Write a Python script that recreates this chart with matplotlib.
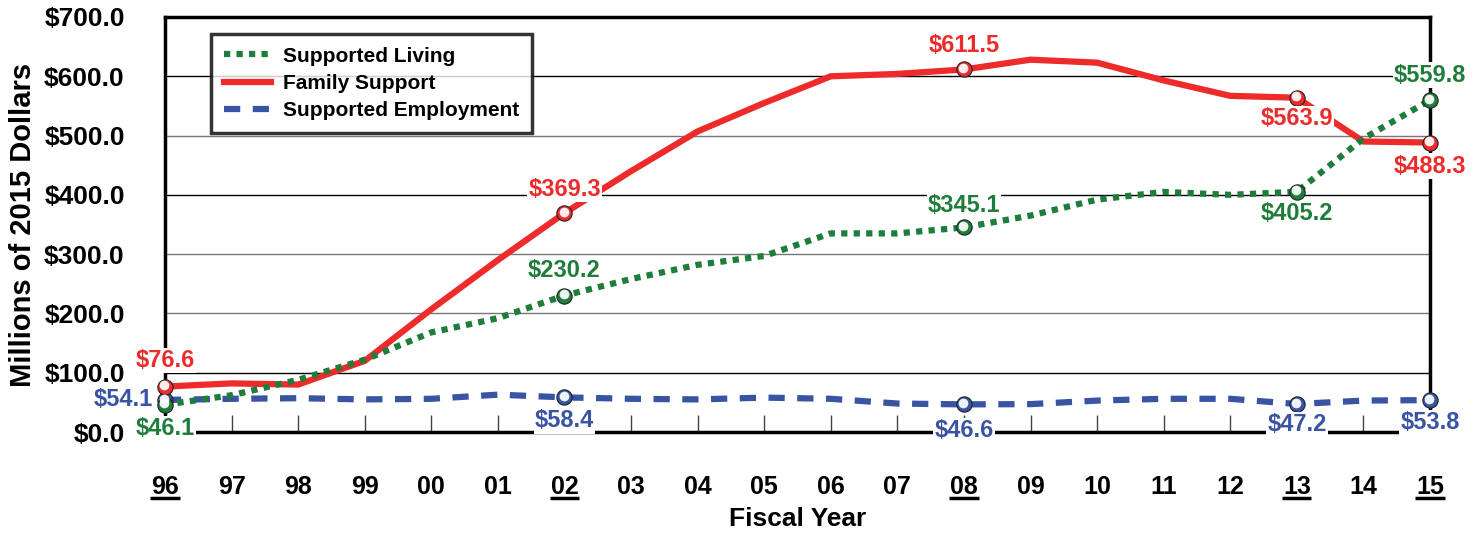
import numpy as np
import matplotlib.pyplot as plt
import matplotlib.transforms as mtransforms

plt.rcParams['font.family'] = ['Liberation Sans', 'DejaVu Sans']
plt.rcParams['font.weight'] = 'bold'

years = ['96', '97', '98', '99', '00', '01', '02', '03', '04', '05',
         '06', '07', '08', '09', '10', '11', '12', '13', '14', '15']
living = [46.1, 62, 88, 122, 168, 192, 230.2, 258, 282, 297,
          335, 335, 345.1, 365, 392, 405, 400, 405.2, 495, 559.8]
family = [76.6, 82, 80, 120, 207, 290, 369.3, 440, 507, 555,
          600, 604, 611.5, 628, 623, 593, 567, 563.9, 490, 488.3]
employment = [54.1, 56, 57, 55, 56, 63, 58.4, 56, 55, 58,
              56, 48, 46.6, 47, 53, 56, 56, 47.2, 53, 53.8]
marked = [0, 6, 12, 17, 19]
yticks = [0, 100, 200, 300, 400, 500, 600, 700]

RED = '#ee2b2b'
GREEN = '#1f7d3b'
BLUE = '#3a54a4'

# label offsets (points) for the marked years: (dx, dy, ha)
living_off = [(0, -17, 'center'), (0, 18, 'center'), (0, 16, 'center'),
              (0, -16, 'center'), (0, 18, 'center')]
family_off = [(0, 19, 'center'), (0, 17, 'center'), (0, 17, 'center'),
              (0, -15, 'center'), (0, -17, 'center')]
employ_off = [(-9, 0, 'right'), (0, -17, 'center'), (0, -19, 'center'),
              (0, -15, 'center'), (0, -16, 'center')]


def main():
    fig = plt.figure(figsize=(14.78, 5.33), dpi=100)
    ax = fig.add_axes([165 / 1478, 1 - 432 / 533, 1265 / 1478, 415 / 533])
    x = np.arange(len(years))

    for v in yticks[1:-1]:
        c = 'black' if v in (100, 400, 600) else '#777777'
        ax.axhline(v, color=c, lw=1.0, zorder=1)

    ax.plot(x, employment, color=BLUE, lw=4.5, ls=(0, (2.6, 2.0)),
            solid_capstyle='butt', dash_capstyle='butt', zorder=3,
            label='Supported Employment')
    ax.plot(x, family, color=RED, lw=4.5, solid_joinstyle='miter', zorder=4,
            label='Family Support')
    ax.plot(x, living, color=GREEN, lw=4.5, ls=(0, (1, 1)),
            dash_capstyle='butt', zorder=5, label='Supported Living')

    hl = mtransforms.offset_copy(ax.transData, fig=fig, x=-0.6, y=1.0, units='points')
    for vals, col, offs in [(employment, BLUE, employ_off), (living, GREEN, living_off),
                            (family, RED, family_off)]:
        mx = [x[i] for i in marked]
        my = [vals[i] for i in marked]
        ax.plot(mx, my, 'o', ms=11, mfc=col, mec='#222222', mew=0.8,
                zorder=8, clip_on=False)
        ax.plot(mx, my, 'o', ms=7, mfc='white', mec='none', alpha=0.92,
                zorder=9, clip_on=False, transform=hl)
        for i, (dx, dy, ha) in zip(marked, offs):
            ax.annotate(f'${vals[i]:.1f}', (x[i], vals[i]), xytext=(dx, dy),
                        textcoords='offset points', ha=ha, va='center',
                        color=col, fontsize=17, fontweight='bold', zorder=10,
                        annotation_clip=False,
                        bbox=dict(boxstyle='square,pad=0.05', fc='white', ec='none'))

    ax.set_xlim(0, len(years) - 1)
    ax.set_ylim(0, 700)
    ax.set_xticks(x)
    ax.set_xticklabels(years, fontsize=18, fontweight='bold')
    ax.set_yticks(yticks)
    ax.set_yticklabels([f'${v:.1f}' for v in yticks], fontsize=19, fontweight='bold')
    ax.tick_params(axis='x', direction='in', length=12, width=1.0, color='#444444', pad=31)
    ax.tick_params(axis='y', length=0, pad=29)
    for s in ax.spines.values():
        s.set_linewidth(2.5)
        s.set_color('black')

    # underline selected years
    trans = mtransforms.blended_transform_factory(ax.transData, ax.transAxes)
    for i in marked:
        ax.plot([x[i] - 0.22, x[i] + 0.22], [-0.158, -0.158], color='black',
                lw=2.5, transform=trans, clip_on=False, solid_capstyle='butt')

    ax.set_xlabel('Fiscal Year', fontsize=19, fontweight='bold', labelpad=6)
    ax.set_ylabel('Millions of 2015 Dollars', fontsize=21, fontweight='bold', labelpad=5)

    h, l = ax.get_legend_handles_labels()
    leg = ax.legend(h[::-1], l[::-1], loc='upper left', bbox_to_anchor=(0.0364, 0.959),
                    borderaxespad=0, prop={'weight': 'bold', 'size': 15},
                    frameon=True, fancybox=False, handlelength=2.3, handletextpad=0.55,
                    labelspacing=0.4, borderpad=0.6)
    leg.get_frame().set_edgecolor('black')
    leg.get_frame().set_linewidth(2.5)
    leg.set_zorder(12)

    fig.savefig('out.png', dpi=100)


if __name__ == '__main__':
    main()
